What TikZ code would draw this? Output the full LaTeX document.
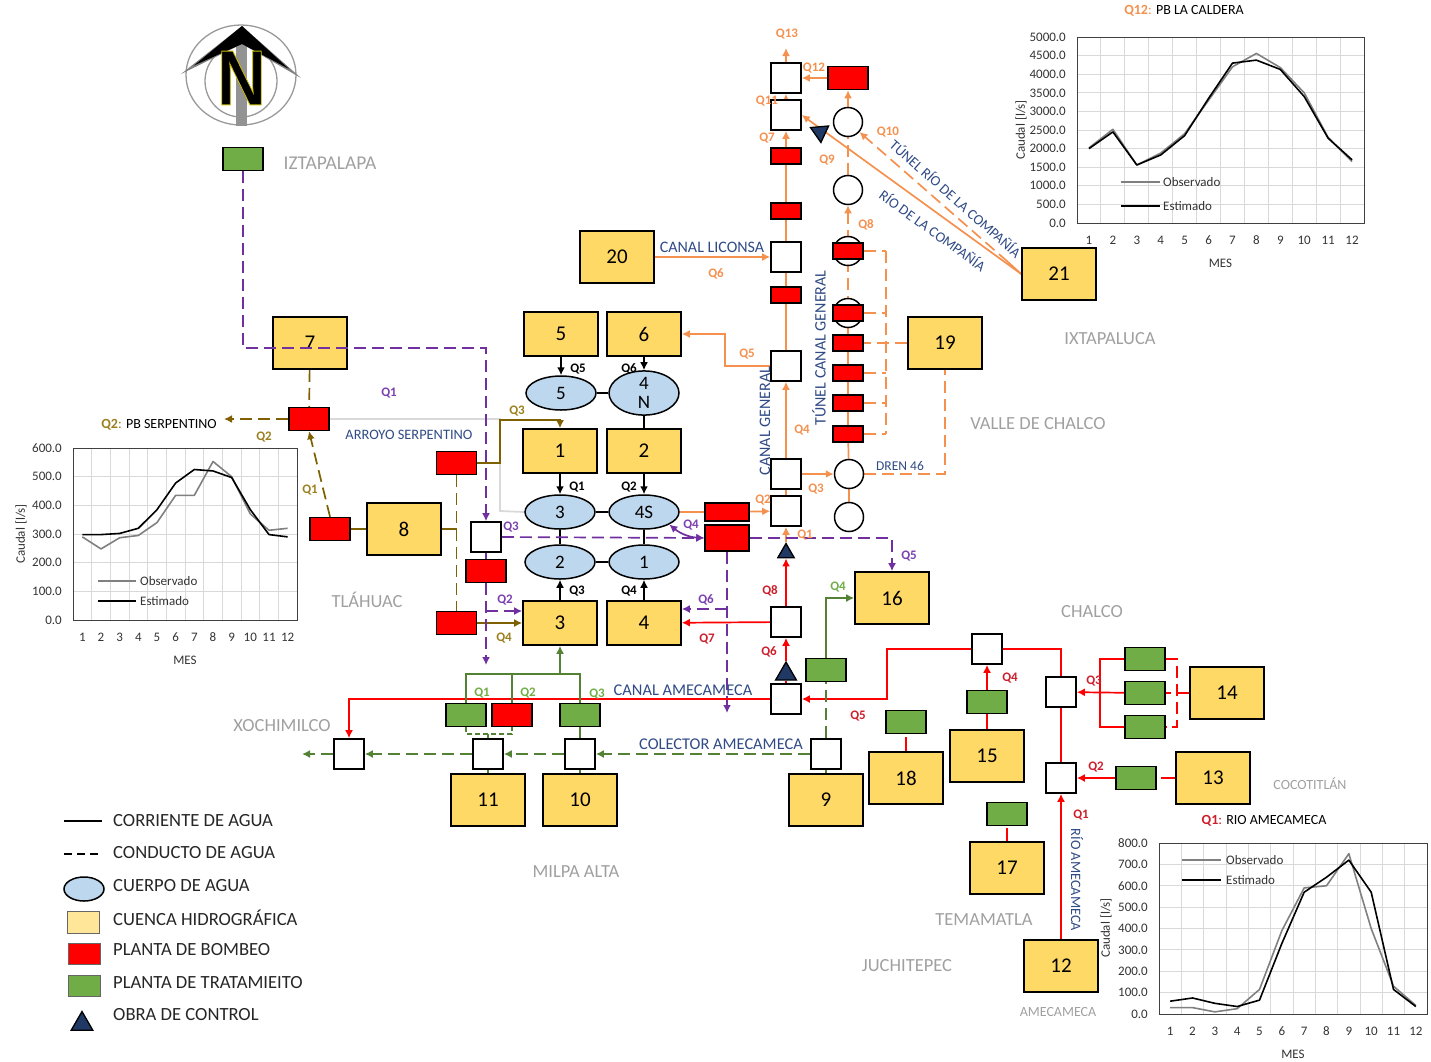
\documentclass[tikz,border=0pt]{standalone}
\usepackage{fontspec}
\setmainfont{Carlito}
\newfontfamily\northfont{Liberation Sans}
\usetikzlibrary{arrows.meta,shapes.geometric,calc}
\pgfdeclarelayer{bg}
\pgfsetlayers{bg,main}
\definecolor{yel}{HTML}{FFD966}
\definecolor{palecol}{HTML}{FFE699}
\definecolor{lake}{HTML}{BDD7EE}
\definecolor{grn}{HTML}{70AD47}
\definecolor{dgrn}{HTML}{548235}
\definecolor{ora}{HTML}{F4914F}
\definecolor{brn}{HTML}{7F6000}
\definecolor{lbrn}{HTML}{9C7F1E}
\definecolor{pur}{HTML}{7030A0}
\definecolor{lpur}{HTML}{7B3FB0}
\definecolor{rlab}{HTML}{CC1F2B}
\definecolor{navy}{HTML}{2F4A85}
\definecolor{tri}{HTML}{1F3864}
\definecolor{plc}{HTML}{A0A0A0}
\definecolor{gridc}{HTML}{D9D9D9}
\newcommand\fs[1]{\fontsize{#1}{#1}\selectfont}
\tikzset{
 yb/.style={draw=black,line width=1.6pt,fill=yel,minimum width=74,minimum height=52,inner sep=0,font=\fs{21}},
 ybs/.style={yb,minimum height=44},
 sq/.style={draw=black,line width=1.6pt,fill=white,minimum width=30,minimum height=30,inner sep=0},
 circ/.style={circle,draw=black,line width=1.5pt,fill=white,minimum size=29,inner sep=0},
 lk/.style={ellipse,draw=black,line width=1.5pt,fill=lake,minimum width=70,minimum height=34,inner sep=0,font=\fs{19}},
 rb/.style={draw=black,line width=1.5pt,fill=red,minimum width=40,minimum height=23,inner sep=0},
 rbs/.style={rb,minimum width=30,minimum height=16},
 gb/.style={draw=black,line width=1.5pt,fill=grn,minimum width=40,minimum height=23,inner sep=0},
 tr/.style={regular polygon,regular polygon sides=3,draw=black,line width=1.3pt,fill=tri,minimum size=19,inner sep=0},
 tip/.style={-{Latex[length=8pt,width=8pt]}},
 tipb/.style={{Latex[length=8pt,width=8pt]}-{Latex[length=8pt,width=8pt]}},
 dsh/.style={dash pattern=on 12pt off 6pt},
 ol/.style={draw=ora,line width=1.7pt},
 bl/.style={draw=brn,line width=1.7pt},
 pl/.style={draw=pur,line width=1.7pt},
 gl/.style={draw=dgrn,line width=1.7pt},
 rl/.style={draw=red,line width=1.7pt},
 kl/.style={draw=black,line width=1.6pt},
 ql/.style={inner sep=0,font=\bfseries\fs{13}},
 qo/.style={ql,text=ora}, qb/.style={ql,text=lbrn}, qp/.style={ql,text=lpur},
 qg/.style={ql,text=grn}, qr/.style={ql,text=rlab}, qk/.style={ql,text=black},
 nv/.style={inner sep=0,text=navy,font=\fs{16}},
 nvr/.style={inner sep=0,text=navy,font=\fs{14.5}},
 pc/.style={inner sep=0,text=plc,font=\fs{18.5}},
 pcs/.style={inner sep=0,text=plc,font=\fs{14}},
 ct/.style={inner sep=0,text=black!80,font=\fs{13}},
 lg/.style={inner sep=0,anchor=west,text=black!85,font=\fs{18.6}},
}
\newcommand\mychart[9]{%
\pgfmathsetmacro\cw{(#3-#2)/12}\pgfmathsetmacro\ch{(#5-#4)/#6}%
\begin{scope}[shift={(#2,#5)},x=\cw pt,y=\ch pt]
\foreach \i in {1,...,11} \draw[gridc,line width=1pt] (\i,0) -- (\i,#6);
\foreach \v in #7 {\draw[gridc,line width=1pt] (0,\v) -- (12,\v);
  \node[ct,anchor=east,xshift=-11pt] (#1y\v) at (0,\v) {\v.0};}
\foreach \i in {1,...,12} \node[ct,anchor=base] (#1x\i) at (\i-0.5,0) [yshift=-21pt] {\i};
\draw[black!75,line width=1pt] (0,0) rectangle (12,#6);
\draw[gray,line width=1.6pt,line join=round] plot coordinates {#8};
\draw[black,line width=1.6pt,line join=round] plot coordinates {#9};
\node[ct] (#1m) at (6,0) [yshift=-40pt] {MES};
\end{scope}}
\begin{document}
\begin{tikzpicture}[x=1pt,y=-1pt]
\useasboundingbox (0,0) rectangle (1431,1061);

% north sign
\draw[gray!80,line width=1.3pt] (241,75) ellipse [x radius=55,y radius=50];
\draw[gray!80,line width=1.3pt] (241,81) circle (36);
\fill[gray!85] (236,30) rectangle (247,126);
\fill[gray] (181,74) -- (242,26) -- (301,78) -- (242,44) -- cycle;
\fill[black] (194,65.5) -- (242,26) -- (289,69) -- (242,44) -- cycle;
\node[inner sep=0,font=\northfont\bfseries\fs{78}] (north) at (241.5,78)
  {\special{pdf:code q 0.9 w 0.8 0.75 0 RG 2 Tr}\scalebox{0.86}[1]{N}\special{pdf:code Q}};

% yellow boxes
\node[yb] (b20) at (617,257) {20};
\node[yb] (b21) at (1059,274) {21};
\node[yb] (b19) at (945,343) {19};
\node[ybs] (b5) at (561,334) {5};
\node[ybs] (b6) at (644,334) {6};
\node[yb] (b7) at (310,343) {7};
\node[ybs] (b1) at (560,451) {1};
\node[ybs] (b2) at (644,451) {2};
\node[yb] (b8) at (404,529) {8};
\node[ybs] (b3) at (560,623) {3};
\node[ybs] (b4) at (644,623) {4};
\node[yb] (b16) at (892,598) {16};
\node[yb] (b14) at (1227,693) {14};
\node[yb] (b13) at (1213,778) {13};
\node[yb] (b15) at (987,756) {15};
\node[yb] (b18) at (906,778) {18};
\node[yb] (b17) at (1007,868) {17};
\node[yb] (b9) at (826,800) {9};
\node[yb] (b10) at (580,800) {10};
\node[yb] (b11) at (488,800) {11};
\node[yb] (b12) at (1061,966) {12};

% water bodies
\node[lk] (l5) at (561,393) {5};
\node[lk,align=center] (l4N) at (644,393) {\fontsize{19}{20}\selectfont 4\\[0pt]N};
\node[lk] (l3) at (560,512) {3};
\node[lk] (l4S) at (644,512) {4S};
\node[lk] (l2) at (560,562) {2};
\node[lk] (l1) at (644,562) {1};

% junction squares
\node[sq] (s78) at (786,78) {};
\node[sq] (s115) at (786,115) {};
\node[sq] (s257) at (786,257) {};
\node[sq] (s366) at (786,366) {};
\node[sq] (s474) at (786,474) {};
\node[sq] (s511) at (786,511) {};
\node[sq] (s622) at (786,622) {};
\node[sq] (s699) at (786,699) {};
\node[sq] (s486) at (486,537) {};
\node[sq] (s987) at (987,649) {};
\node[sq] (s692) at (1061,692) {};
\node[sq] (s778) at (1061,778) {};
\node[sq] (s349) at (349,754) {};
\node[sq] (s488) at (488,754) {};
\node[sq] (s580) at (580,754) {};
\node[sq] (s825) at (826,754) {};

% circles
\node[circ] (c122) at (848,122) {};
\node[circ] (c190) at (848,190) {};
\node[circ] (c251) at (848,251) {};
\node[circ] (c313) at (848,313) {};
\node[circ] (c474) at (849,474) {};
\node[circ] (c517) at (849,517) {};

% pumping plants
\node[rb] (r78) at (848,78) {};
\node[rbs] (r156) at (786,156) {};
\node[rbs] (r211) at (786,211) {};
\node[rbs] (r295) at (786,295) {};
\node[rbs] (r251) at (848,251) {};
\node[rbs] (r313) at (848,313) {};
\node[rbs] (r343) at (848,343) {};
\node[rbs] (r373) at (848,373) {};
\node[rbs] (r403) at (848,403) {};
\node[rbs] (r434) at (848,434) {};
\node[rb] (r463) at (456.5,463) {};
\node[rb] (r309) at (309,419) {};
\node[rb] (r330) at (330,529) {};
\node[rb] (r571) at (486,571) {};
\node[rb] (r623) at (456.5,623) {};
\node[rb,minimum width=44,minimum height=18] (r512) at (727,512) {};
\node[rb,minimum width=44,minimum height=26] (r538) at (727,538) {};
\node[rb] (r715) at (512,715) {};

% treatment plants
\node[gb] (g243) at (243,159) {};
\node[gb] (g826) at (826,670) {};
\node[gb] (g466) at (466,715) {};
\node[gb] (g580) at (580,715) {};
\node[gb] (g906) at (906,722) {};
\node[gb] (g987) at (987,702) {};
\node[gb] (g1007) at (1007,814) {};
\node[gb] (g659) at (1145,659) {};
\node[gb] (g693) at (1145,693) {};
\node[gb] (g727) at (1145,727) {};
\node[gb] (g1136) at (1136,778) {};

% control works
\node[tr] (t1) at (786,553) {};
\node[tr,minimum size=24] (t2) at (786,674) {};
\node[tr,minimum size=21,shape border rotate=185] (t3) at (820,132) {};

% free ends and bends
\coordinate (oTop) at (786,48);
\coordinate (o5a) at (725,366);
\coordinate (ox1) at (886,251);
\coordinate (ox2) at (886,434);
\coordinate (o21d) at (1008,262);
\coordinate (ga) at (500,419);
\coordinate (gb) at (500,511);
\coordinate (bw) at (224,419);
\coordinate (b2a) at (456.5,529);
\coordinate (n1) at (500,463);
\coordinate (n2) at (500,420);
\coordinate (p1) at (243,348);
\coordinate (p2) at (486,348);
\coordinate (p3) at (486,665);
\coordinate (p4) at (486,611);
\coordinate (p5) at (727,713);
\coordinate (p6) at (727,609);
\coordinate (e1) at (887,649);
\coordinate (e2) at (887,699);
\coordinate (e3) at (1100,659);
\coordinate (e4) at (1100,727);
\coordinate (e5) at (1177,659);
\coordinate (e6) at (1177,727);
\coordinate (f1) at (826,598);
\coordinate (f2) at (466,674);
\coordinate (f3) at (580,674);
\coordinate (f4) at (466,734);
\coordinate (f5) at (512,734);
\coordinate (f6) at (488,734);
\coordinate (f7) at (302,754);

\begin{pgfonlayer}{bg}
% grey stream
\draw[gridc,line width=1.8pt] (r309.east) -- (ga) -- (gb) -- (l3.west);
% black streams
\draw[kl,tip] (b5) -- (l5);
\draw[kl,tip] (b6) -- (l4N);
\draw[kl,tip] (b1) -- (l3);
\draw[kl,tip] (b2) -- (l4S);
\draw[kl,tip] (b3) -- (l2);
\draw[kl,tip] (b4) -- (l1);
\draw[kl] (l5) -- (l4N);
\draw[kl] (l4N) -- (b2);
\draw[kl] (l3) -- (l4S);
\draw[kl] (l3) -- (l2);
\draw[kl] (l4S) -- (l1);
\draw[kl] (l2) -- (l1);
% orange
\draw[ol,tip] (b20) -- (s257);
\draw[ol] (s511) -- (s474);
\draw[ol,tip] (s474) -- (s366);
\draw[ol] (s366) -- (s257);
\draw[ol,tip] (s257) -- (s115);
\draw[ol,tip] (s115) -- (s78);
\draw[ol,tip] (s78) -- (oTop);
\draw[ol,tip] (r78) -- (s78);
\draw[ol,tip] (c122) -- (r78);
\draw[ol,dsh] (c190) -- (c122);
\draw[ol,dsh,tip] (r251) -- (c190);
\draw[ol,dsh] (r251) -- (r313);
\draw[ol] (r313) -- (r343);
\draw[ol] (r343) -- (r373);
\draw[ol] (r373) -- (r403);
\draw[ol] (r403) -- (r434);
\draw[ol] (r434) -- (c474);
\draw[ol] (c474) -- (c517);
\draw[ol] (l4S) -- (r512);
\draw[ol,tip] (r512) -- (s511);
\draw[ol,tip] (s366.west) -- (o5a) |- (b6.east);
\draw[ol,tip] (s474) -- (c474);
\draw[ol,dsh] (c474.east) -| (b19.south);
\draw[ol,dsh] (b19.west) -- (r343.east);
\draw[ol,dsh] (ox1) -- (ox2);
\draw[ol,dsh] (r251.east) -- (ox1);
\draw[ol,dsh] (r313.east) -- (r313.east -| ox1);
\draw[ol,dsh] (r373.east) -- (r373.east -| ox1);
\draw[ol,dsh] (r403.east) -- (r403.east -| ox1);
\draw[ol,dsh] (r434.east) -- (ox2);
\draw[ol,tip] (b21.west) -- (s115.east);
\draw[ol] (b21.west) -- (o21d);
\draw[ol,dsh,tip] (o21d) -- (c122);
\draw[ol,tip] (t1) -- (s511);
% brown
\draw[bl,dsh] (b7) -- (r309);
\draw[bl,dsh,tip] (r309.west) -- (bw);
\draw[bl,dsh,tip] (r330.north) -- (r309.south);
\draw[bl] (r330) -- (b8);
\draw[bl] (b8.east) -- (b2a);
\draw[bl,dsh] (r463.south) -- (r623.north);
\draw[bl,tip] (r463.east) -- (n1) -- (n2) -| (b1.north);
\draw[bl,tip] (r623) -- (b3);
% purple
\draw[pl] (s486) -- (r571);
\draw[pl,dsh,tip] (r571.south) -- (p3);
\draw[pl,dsh,tip] (p4) -- (p4 -| b3.west);
\draw[pl,dsh,tip] (s486.east) -- (r538.west);
\draw[pl,dsh,tip] (r538.east) -| (b16.north);
\draw[pl,tipb] (l4S.south east) to[bend right=18] (r538.west);
\draw[pl,dsh,tip] (r538.south) -- (p5);
\draw[pl,dsh,tip] (p6) -- (p6 -| b4.east);
% red
\draw[rl,tip] (s622) -- (b4);
\draw[rl,tip] (s622) -- (t1);
\draw[rl,tip] (t2) -- (s622);
\draw[rl] (s699) -- (t2);
\draw[rl,tip] (s987.west) -- (e1) -- (e2) -- (s699.east);
\draw[rl,tip] (s699.west) -| (s349.north);
\draw[rl] (s987.east) -| (s692.north);
\draw[rl] (s778) -- (s692);
\draw[rl,tip] (b12.north) -- (s778.south);
\draw[rl,tip] (g1136) -- (s778);
\draw[rl,shorten >=4pt] (b13.west) -- (g1136.east);
\draw[rl] (g659.west) -- (e3) -- (e4) -- (g727.west);
\draw[rl,tip] (g693) -- (s692);
\draw[rl,dsh] (b14.west) -- (g693.east);
\draw[rl,dsh] (g659.east) -- (e5) -- (e6) -- (g727.east);
\draw[rl] (b15.north) -- (g987.south);
\draw[rl,tip] (g987) -- (s987);
\draw[rl,shorten >=3pt] (b18.north) -- (g906.south);
\draw[rl,shorten >=2pt] (b17.north) -- (g1007.south);
% green
\draw[gl,tip] (g826.north) -- (f1) -- (b16.west);
\draw[gl,dsh] (s825) -- (g826);
\draw[gl] (b9) -- (s825);
\draw[gl,dsh,tip] (s825) -- (s580);
\draw[gl,dsh,tip] (s580) -- (s488);
\draw[gl,dsh,tip] (s488) -- (s349);
\draw[gl,dsh,tip] (s349) -- (f7);
\draw[gl] (b10) -- (s580);
\draw[gl] (s580) -- (g580);
\draw[gl] (g466.north) -- (f2) -- (f3) -- (g580.north);
\draw[gl] (r715.north) -- (r715.north |- f2);
\draw[gl,tip] (b3.south |- f2) -- (b3.south);
\draw[gl] (b11) -- (s488);
\draw[gl] (s488) -- (f6);
\draw[gl,dash pattern=on 5pt off 3pt] (g466.south) -- (f4) -- (f5) -- (r715.south);
\end{pgfonlayer}
% purple conduit lies over box 7
\draw[pl,dsh,tip] (g243.south) -- (p1) -- (p2) -- (s486.north);

% charts
\mychart{ca}{1077}{1364}{37}{223}{5000}{{0,500,1000,1500,2000,2500,3000,3500,4000,4500,5000}}
 {(0.5,2020)(1.5,2520)(2.5,1560)(3.5,1880)(4.5,2400)(5.5,3300)(6.5,4200)(7.5,4560)(8.5,4180)(9.5,3500)(10.5,2300)(11.5,1650)}
 {(0.5,2000)(1.5,2450)(2.5,1560)(3.5,1830)(4.5,2350)(5.5,3350)(6.5,4300)(7.5,4380)(8.5,4130)(9.5,3400)(10.5,2280)(11.5,1700)}
\mychart{cb}{73}{297}{448}{620}{600}{{0,100,200,300,400,500,600}}
 {(0.5,290)(1.5,248)(2.5,287)(3.5,295)(4.5,340)(5.5,435)(6.5,435)(7.5,553)(8.5,500)(9.5,370)(10.5,313)(11.5,320)}
 {(0.5,298)(1.5,298)(2.5,302)(3.5,320)(4.5,385)(5.5,478)(6.5,525)(7.5,520)(8.5,497)(9.5,385)(10.5,298)(11.5,290)}
\mychart{cc}{1159}{1427}{843}{1014}{800}{{0,100,200,300,400,500,600,700,800}}
 {(0.5,30)(1.5,30)(2.5,10)(3.5,25)(4.5,115)(5.5,390)(6.5,590)(7.5,600)(8.5,750)(9.5,400)(10.5,130)(11.5,40)}
 {(0.5,60)(1.5,75)(2.5,50)(3.5,35)(4.5,65)(5.5,330)(6.5,570)(7.5,640)(8.5,720)(9.5,570)(10.5,115)(11.5,35)}
\node[ct,rotate=90] (yta) at (1021,130) {Caudal [l/s]};
\node[ct,rotate=90] (ytb) at (21,534) {Caudal [l/s]};
\node[ct,rotate=90] (ytc) at (1106,928) {Caudal [l/s]};
\coordinate (la1) at (1121,182); \coordinate (la2) at (1160,182);
\coordinate (la3) at (1121,206); \coordinate (la4) at (1160,206);
\draw[gray,line width=1.6pt] (la1) -- (la2);
\draw[black,line width=1.6pt] (la3) -- (la4);
\node[ct,anchor=west] (lta) at (1163,182) {Observado};
\node[ct,anchor=west] (ltb) at (1163,206) {Estimado};
\coordinate (lb1) at (98,581); \coordinate (lb2) at (136,581);
\coordinate (lb3) at (98,601); \coordinate (lb4) at (136,601);
\draw[gray,line width=1.6pt] (lb1) -- (lb2);
\draw[black,line width=1.6pt] (lb3) -- (lb4);
\node[ct,anchor=west] (ltc) at (140,581) {Observado};
\node[ct,anchor=west] (ltd) at (140,601) {Estimado};
\coordinate (lc1) at (1182,860); \coordinate (lc2) at (1221,860);
\coordinate (lc3) at (1182,880); \coordinate (lc4) at (1221,880);
\draw[gray,line width=1.6pt] (lc1) -- (lc2);
\draw[black,line width=1.6pt] (lc3) -- (lc4);
\node[ct,anchor=west] (lte) at (1226,860) {Observado};
\node[ct,anchor=west] (ltf) at (1226,880) {Estimado};
\node[inner sep=0,font=\fs{14}] (tta) at (1184,11) {\textcolor{ora}{\textbf{Q12}:} PB LA CALDERA};
\node[inner sep=0,font=\fs{14}] (ttb) at (159,425) {\textcolor{lbrn}{\textbf{Q2}:} PB SERPENTINO};
\node[inner sep=0,font=\fs{14}] (ttc) at (1264,821) {\textcolor{rlab}{\textbf{Q1}:} RIO AMECAMECA};

% flow labels
\node[qo] (oq13) at (787,34) {Q13};
\node[qo] (oq12) at (814,68) {Q12};
\node[qo] (oq11) at (767,101) {Q11};
\node[qo] (oq10) at (888,132) {Q10};
\node[qo] (oq9) at (827,160) {Q9};
\node[qo] (oq8) at (866,225) {Q8};
\node[qo] (oq7) at (767,138) {Q7};
\node[qo] (oq6) at (716,274) {Q6};
\node[qo] (oq5) at (747,354) {Q5};
\node[qo] (oq4) at (802,430) {Q4};
\node[qo] (oq3) at (816,489) {Q3};
\node[qo] (oq2) at (763,500) {Q2};
\node[qo] (oq1) at (805,535) {Q1};
\node[qk] (kq5) at (578,369) {Q5};
\node[qk] (kq6) at (629,369) {Q6};
\node[qk] (kq1) at (577,487) {Q1};
\node[qk] (kq2) at (629,487) {Q2};
\node[qk] (kq3) at (577,591) {Q3};
\node[qk] (kq4) at (629,591) {Q4};
\node[qb] (bq3) at (517,411) {Q3};
\node[qb] (bq4) at (504,638) {Q4};
\node[qb] (bq2) at (264,437) {Q2};
\node[qb] (bq1) at (310,490) {Q1};
\node[qp] (pq1) at (389,393) {Q1};
\node[qp] (pq3) at (511,527) {Q3};
\node[qp] (pq2) at (505,600) {Q2};
\node[qp] (pq4) at (691,525) {Q4};
\node[qp] (pq5) at (909,556) {Q5};
\node[qp] (pq6) at (706,600) {Q6};
\node[qr] (rq8) at (770,591) {Q8};
\node[qr] (rq7) at (707,639) {Q7};
\node[qr] (rq6) at (769,652) {Q6};
\node[qr] (rq5) at (858,716) {Q5};
\node[qr] (rq4) at (1010,678) {Q4};
\node[qr] (rq3) at (1094,681) {Q3};
\node[qr] (rq2) at (1096,767) {Q2};
\node[qr] (rq1) at (1081,815) {Q1};
\node[qg] (gq1) at (482,693) {Q1};
\node[qg] (gq2) at (528,693) {Q2};
\node[qg] (gq3) at (597,694) {Q3};
\node[qg] (gq4) at (838,587) {Q4};

% stream names
\node[nv] (ncl) at (712,247) {CANAL LICONSA};
\node[nv,rotate=90] (ncg) at (765,421) {CANAL GENERAL};
\node[nv,rotate=90] (ntc) at (819,348) {TÚNEL CANAL GENERAL};
\node[nvr,rotate=-41.5] (ntr) at (956,198) {TÚNEL RÍO DE LA COMPAÑÍA};
\node[nvr,rotate=-36] (nrc) at (933,230) {RÍO DE LA COMPAÑÍA};
\node[nv,font=\fs{13.5}] (nd) at (900,466) {DREN 46};
\node[nv,font=\fs{14.4}] (nas) at (409,435) {ARROYO SERPENTINO};
\node[nv,font=\fs{16.4}] (nam) at (683,690) {CANAL AMECAMECA};
\node[nv,font=\fs{16.4}] (nco) at (721,744) {COLECTOR AMECAMECA};
\node[nv,rotate=-90,font=\fs{14.3}] (nra) at (1077,880) {RÍO AMECAMECA};

% places
\node[pc,font=\fs{19.5}] (ziz) at (330,163) {IZTAPALAPA};
\node[pc] (zix) at (1110,339) {IXTAPALUCA};
\node[pc] (zva) at (1038,424) {VALLE DE CHALCO};
\node[pc] (zt) at (367,600) {TLÁHUAC};
\node[pc] (zch) at (1092,612) {CHALCO};
\node[pc] (zxo) at (282,726) {XOCHIMILCO};
\node[pcs] (zco) at (1310,784) {COCOTITLÁN};
\node[pc] (zmi) at (576,872) {MILPA ALTA};
\node[pc] (zte) at (984,920) {TEMAMATLA};
\node[pc] (zju) at (907,966) {JUCHITEPEC};
\node[pcs] (zam) at (1058,1012) {AMECAMECA};

% legend
\coordinate (k1) at (64,821); \coordinate (k2) at (102,821);
\coordinate (k3) at (64,854); \coordinate (k4) at (102,854);
\draw[kl] (k1) -- (k2);
\draw[kl,dash pattern=on 8pt off 5pt] (k3) -- (k4);
\node[lk,minimum width=40,minimum height=24] (kl3) at (84,889) {};
\node[draw=black!60,line width=0.8pt,fill=palecol,minimum width=32,minimum height=22,inner sep=0] (kl4) at (83,922) {};
\node[fill=red,draw=black!60,line width=0.8pt,minimum width=32,minimum height=21,inner sep=0] (kl5) at (84,954) {};
\node[fill=grn,draw=black!60,line width=0.8pt,minimum width=32,minimum height=21,inner sep=0] (kl6) at (84,986) {};
\node[tr,minimum size=25] (kl7) at (82,1024) {};
\node[lg] (kt1) at (113,821) {CORRIENTE DE AGUA};
\node[lg] (kt2) at (113,853) {CONDUCTO DE  AGUA};
\node[lg] (kt3) at (113,886) {CUERPO DE AGUA};
\node[lg] (kt4) at (113,918) {CUENCA HIDROGRÁFICA};
\node[lg] (kt5) at (113,950) {PLANTA DE BOMBEO};
\node[lg] (kt6) at (113,983) {PLANTA DE TRATAMIEITO};
\node[lg] (kt7) at (113,1015) {OBRA DE CONTROL};
\end{tikzpicture}
\end{document}
